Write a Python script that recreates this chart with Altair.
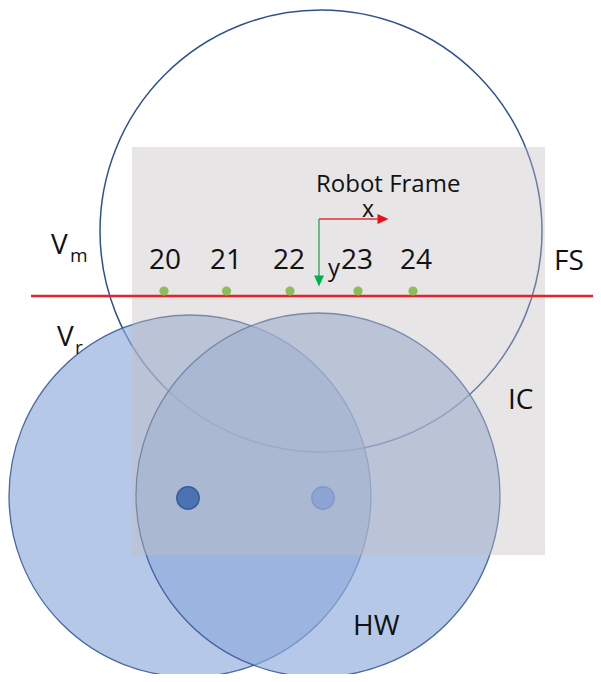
import altair as alt
import pandas as pd

# ---- data (diagram coordinates, pixels of the original figure) ----
ring_name = ["Vm"]
ring_cx = [321]
ring_cy = [234]
ring_r = [221]

disc_name = ["Vr", "HW"]
disc_cx = [190, 318]
disc_cy = [499, 498]
disc_r = [181, 182]

hub_x = [188, 323]
hub_y = [501, 501]
hub_fill = ["#4a72b4", "#8ea4d3"]
hub_stroke = ["#3a5c98", "#8399c9"]

zone_x = [132]
zone_x2 = [545]
zone_y = [150]
zone_y2 = [558]

line_x = [31]
line_x2 = [601]
line_y = [299]

wp_label = ["20", "21", "22", "23", "24"]
wp_x = [164, 226.5, 290, 358, 413]
wp_y = [294, 294, 294, 294, 294]
wp_label_x = [165, 226, 289, 357, 416]
wp_label_y = [272, 272, 272, 272, 272]

frame_ox = [319]
frame_oy = [222]
frame_xend = [378]
frame_yend = [280]

txt_left = ["Robot Frame", "V", "m", "V", "r", "FS", "IC", "HW"]
txt_left_x = [316, 51, 70, 57, 75, 554, 508, 353]
txt_left_y = [195, 257, 265, 349, 357, 273, 412, 638]
txt_left_fs = [24, 28, 19, 28, 19, 28, 28, 28]

txt_c = ["x", "y"]
txt_c_x = [368, 334]
txt_c_y = [220, 279]
txt_c_fs = [23, 24]

# ---- scales: 1 unit = 1 px; chart sits inside the 8px page margin ----
CW, CH = 585, 666
X0, Y0 = 8, 11
xs = alt.Scale(domain=[X0, X0 + CW], nice=False, zero=False)
ys = alt.Scale(domain=[Y0, Y0 + CH], nice=False, zero=False, reverse=True)
FONT = "Open Sans"

def X(f):
    return alt.X(f, type="quantitative", scale=xs, axis=None)

def Y(f):
    return alt.Y(f, type="quantitative", scale=ys, axis=None)

ring = pd.DataFrame({"n": ring_name, "cx": ring_cx, "cy": ring_cy, "r": ring_r})
ring["s"] = (2 * ring["r"]) ** 2
l_ring = alt.Chart(ring).mark_point(shape="circle", filled=False, color="#2f528f",
                                    strokeWidth=1.5, opacity=1).encode(
    x=X("cx"), y=Y("cy"), size=alt.Size("s:Q", scale=None, legend=None))

disc = pd.DataFrame({"n": disc_name, "cx": disc_cx, "cy": disc_cy, "r": disc_r})
disc["s"] = (2 * disc["r"]) ** 2
l_disc = alt.Chart(disc).mark_point(shape="circle", filled=True, fill="#8faadc",
                                    fillOpacity=0.65, stroke="#2f528f",
                                    strokeWidth=1.3, strokeOpacity=0.85).encode(
    x=X("cx"), y=Y("cy"), size=alt.Size("s:Q", scale=None, legend=None))

zone = pd.DataFrame({"x": zone_x, "x2": zone_x2, "y": zone_y, "y2": zone_y2})
l_zone = alt.Chart(zone).mark_rect(color="#c3bebe", opacity=0.4).encode(
    x=X("x"), x2="x2", y=Y("y"), y2="y2")

hub = pd.DataFrame({"x": hub_x, "y": hub_y, "f": hub_fill, "s": hub_stroke})
l_hub = alt.Chart(hub).mark_point(shape="circle", filled=True, size=500,
                                  opacity=1, strokeWidth=1.5).encode(
    x=X("x"), y=Y("y"),
    fill=alt.Fill("f:N", scale=None, legend=None),
    stroke=alt.Stroke("s:N", scale=None, legend=None))

line = pd.DataFrame({"x": line_x, "x2": line_x2, "y": line_y})
l_line = alt.Chart(line).mark_rule(color="#e3242b", strokeWidth=2.5).encode(
    x=X("x"), x2="x2", y=Y("y"))

wp = pd.DataFrame({"t": wp_label, "x": wp_x, "y": wp_y, "lx": wp_label_x, "ly": wp_label_y})
l_wp = alt.Chart(wp).mark_point(shape="circle", filled=True, size=85, color="#8dbd5b",
                                opacity=1).encode(x=X("x"), y=Y("y"))
l_wpt = alt.Chart(wp).mark_text(font=FONT, fontSize=28, align="center",
                                baseline="alphabetic", color="#111111").encode(
    x=X("lx"), y=Y("ly"), text="t:N")

fr = pd.DataFrame({"ox": frame_ox, "oy": frame_oy, "xe": frame_xend, "ye": frame_yend})
l_xax = alt.Chart(fr).mark_rule(color="#e0303a", strokeWidth=1.3).encode(
    x=X("ox"), x2="xe", y=Y("oy"))
l_yax = alt.Chart(fr).mark_rule(color="#22a650", strokeWidth=1.3).encode(
    x=X("ox"), y=Y("oy"), y2="ye")
l_xhead = alt.Chart(fr).mark_point(shape="M-1,-0.9L1,0L-1,0.9Z", filled=True,
                                   size=121, color="#e8111b", opacity=1).encode(
    x=X("xe"), y=Y("oy"), xOffset=alt.value(5))
l_yhead = alt.Chart(fr).mark_point(shape="M-0.9,-1L0.9,-1L0,1Z", filled=True,
                                   size=121, color="#00b050", opacity=1).encode(
    x=X("ox"), y=Y("ye"), yOffset=alt.value(4))

tl = pd.DataFrame({"t": txt_left, "x": txt_left_x, "y": txt_left_y, "fs": txt_left_fs})
l_tl = alt.Chart(tl).mark_text(font=FONT, align="left", baseline="alphabetic",
                               color="#111111").encode(
    x=X("x"), y=Y("y"), text="t:N", size=alt.Size("fs:Q", scale=None, legend=None))

tc = pd.DataFrame({"t": txt_c, "x": txt_c_x, "y": txt_c_y, "fs": txt_c_fs})
l_tc = alt.Chart(tc).mark_text(font=FONT, align="center", baseline="alphabetic",
                               color="#111111").encode(
    x=X("x"), y=Y("y"), text="t:N", size=alt.Size("fs:Q", scale=None, legend=None))

chart = alt.layer(
    l_ring, l_disc, l_zone, l_hub, l_line, l_wp, l_wpt,
    l_xax, l_yax, l_xhead, l_yhead, l_tl, l_tc
).properties(
    width=CW, height=CH, padding=0,
    autosize=alt.AutoSizeParams(type="none"),
    background="white"
).configure_view(stroke=None)

chart.save("out.html", embed_options={"renderer": "svg", "actions": False})
